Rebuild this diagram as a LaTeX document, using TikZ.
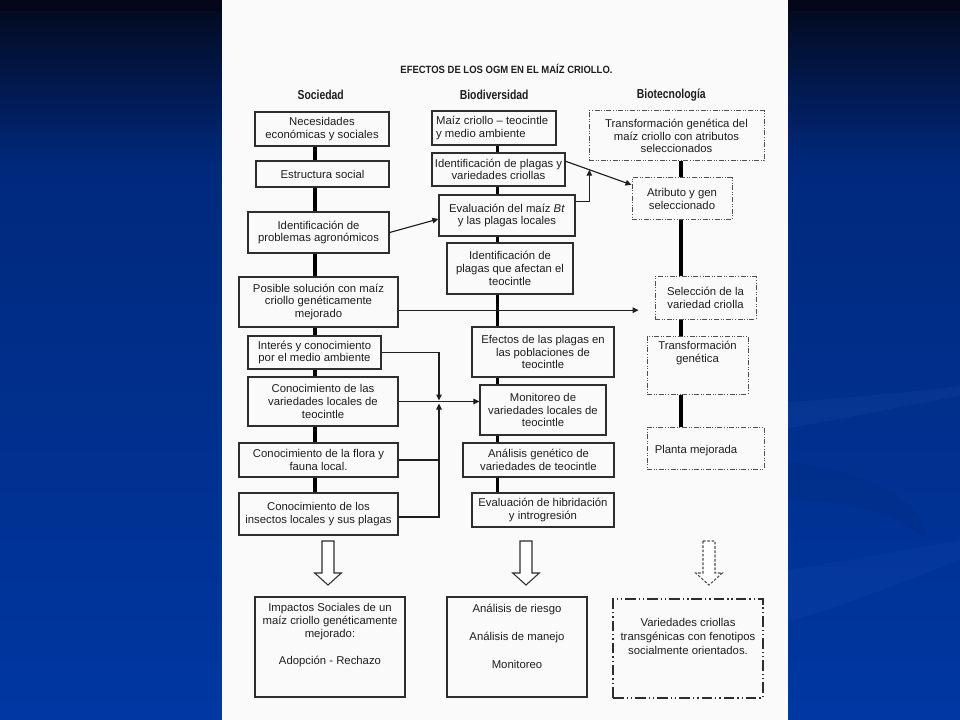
\documentclass[tikz,border=0pt]{standalone}
\usepackage{fontspec}
\setmainfont{Liberation Sans}
\newfontfamily\hdfont{Liberation Sans}[FakeStretch=0.8]
\newfontfamily\ttlfont{Liberation Sans}[FakeStretch=0.9]
\usetikzlibrary{arrows.meta,calc}
\definecolor{ink}{HTML}{1E1E1E}
\definecolor{boxline}{HTML}{2E2E2E}
\definecolor{dashgrey}{HTML}{505050}
\definecolor{pagecol}{HTML}{FAFAFA}
\definecolor{bgtop}{HTML}{06061A}
\definecolor{bgA}{HTML}{030B22}
\definecolor{bgB}{HTML}{00297C}
\definecolor{bgC}{HTML}{0037A2}
\definecolor{swoosh}{HTML}{5A86E0}
\newcommand\mybox[7][]{\node[box,#1,minimum width={(#5-#3)*0.75pt},minimum height={(#6-#4)*0.75pt}] (#2) at ({(#3+#5)/2},{(#4+#6)/2}) {#7};}
\newcommand\blockarrow[2]{\draw[hollow,#2] (#1-6,541) -- (#1-6,573) -- (#1-13.3,573) -- (#1,585) -- (#1+13.3,573) -- (#1+6,573) -- (#1+6,541) -- cycle;}
\begin{document}
\begin{tikzpicture}[x=0.75pt,y=-0.75pt,
  box/.style={draw=boxline,line width=0.95pt,inner sep=0pt,align=center,text=ink,font=\fontsize{8.5pt}{9.5pt}\selectfont},
  bio/.style={draw=dashgrey,line width=0.75pt,dash pattern=on 3.75pt off 1.2pt on 0.75pt off 1.2pt on 0.75pt off 1.2pt},
  res/.style={line width=1.5pt},
  resbio/.style={line width=1.5pt,dash pattern=on 8pt off 2.2pt on 1pt off 2.2pt on 1pt off 2.2pt},
  link/.style={line width=2.6pt,draw=black},
  arr/.style={line width=0.85pt,draw=ink,-{Triangle[length=4.5pt,width=4.2pt]}},
  thin/.style={line width=0.85pt,draw=ink},
  txt/.style={inner sep=0pt,align=center,text=ink,font=\fontsize{8.5pt}{9.75pt}\selectfont},
  hollow/.style={draw=boxline,line width=0.8pt,fill=white},
  head/.style={text=ink,font=\hdfont\bfseries\fontsize{9.75pt}{11pt}\selectfont}
]
\useasboundingbox (0,0) rectangle (960,720);
% background
\fill[bgtop] (0,0) rectangle (960,12);
\shade[top color=bgA,bottom color=bgB] (0,12) rectangle (960,165);
\shade[top color=bgB,bottom color=bgC] (0,165) rectangle (960,720);
\fill[swoosh,opacity=0.07] (788,402) .. controls (850,398) and (910,392) .. (960,386) -- (960,396) .. controls (910,404) and (850,418) .. (788,428) -- cycle;
\fill[black,opacity=0.04] (788,462) .. controls (860,470) and (930,500) .. (925,540) .. controls (900,515) and (850,500) .. (788,500) -- cycle;
\fill[swoosh,opacity=0.06] (788,570) .. controls (860,558) and (920,548) .. (960,540) -- (960,560) .. controls (920,575) and (860,600) .. (788,622) -- cycle;
% page
\fill[pagecol] (222,0) rectangle (788,720);

% title and headers
\node[text=ink,font=\ttlfont\bfseries\fontsize{7.9pt}{9pt}\selectfont] (title) at (506.5,68.5) {EFECTOS DE LOS OGM EN EL MAÍZ CRIOLLO.};
\node[head] (h1) at (320.7,95) {Sociedad};
\node[head] (h2) at (494.2,95) {Biodiversidad};
\node[head] (h3) at (671.3,95) {Biotecnología};

% Sociedad
\mybox{s1}{255}{112}{389}{146}{Necesidades\\económicas y sociales}
\mybox{s2}{256}{161}{389}{187}{Estructura social}
\mybox{s3}{248}{212}{389}{253}{Identificación de\\problemas agronómicos}
\mybox{s4}{239}{277}{398}{327}{Posible solución con maíz\\criollo  genéticamente\\mejorado}
\mybox{s5}{248}{336}{381}{369}{Interés y conocimiento\\por el medio ambiente}
\mybox{s6}{248}{377}{398}{426}{Conocimiento de las\\variedades locales de\\teocintle}
\mybox{s7}{239}{443}{398}{477}{Conocimiento de la flora y\\fauna local.}
\mybox{s8}{239}{493}{398}{535}{Conocimiento de los\\insectos locales y sus plagas}

% Biodiversidad
\mybox{b1}{432}{111}{556}{145}{}
\node[txt,align=left,anchor=west] (b1t) at ($(b1.west)+(4.5,0)$) {Maíz criollo – teocintle\\y medio ambiente};
\mybox{b2}{432}{153}{565}{186}{Identificación de plagas y\\variedades criollas}
\mybox{b3}{439}{195}{575}{236}{Evaluación del maíz \textit{Bt}\\y las plagas locales}
\mybox{b4}{447}{243}{573}{294}{Identificación de\\plagas que afectan el\\teocintle}
\mybox{b5}{472}{327}{614}{377}{Efectos de las plagas en\\las poblaciones de\\teocintle}
\mybox{b6}{480}{385}{606}{435}{Monitoreo de\\variedades locales de\\teocintle}
\mybox{b7}{463}{443}{614}{477}{Análisis genético de\\variedades de teocintle}
\mybox{b8}{472}{493}{614}{527}{Evaluación de hibridación\\y introgresión}

% Biotecnologia
\mybox[bio]{t1}{589}{111}{764}{161}{Transformación genética del\\maíz criollo con atributos\\seleccionados}
\mybox[bio]{t2}{632}{178}{732}{220}{Atributo y gen\\seleccionado}
\mybox[bio]{t3}{655}{277}{756}{319}{Selección de la\\variedad criolla}
\mybox[bio]{t4}{647}{336}{748}{394}{}
\node[txt,anchor=north] (t4t) at ($(t4.north)+(0,5.5)$) {Transformación\\genética};
\mybox[bio]{t5}{647}{427}{764}{469}{}
\node[txt,anchor=west] (t5t) at ($(t5.west)+(8,3)$) {Planta mejorada};

% thick links
\coordinate (cs) at (315,0);
\coordinate (cb) at (497.5,0);
\coordinate (ct) at (681,0);
\coordinate (jx) at (439,0);
\foreach \a/\b in {s1/s2,s2/s3,s3/s4,s4/s5,s5/s6,s6/s7,s7/s8}
  \draw[link] (\a.south -| cs) -- (\b.north -| cs);
\foreach \a/\b in {b1/b2,b2/b3,b3/b4,b4/b5,b5/b6,b6/b7,b7/b8}
  \draw[link] (\a.south -| cb) -- (\b.north -| cb);
\foreach \a/\b in {t1/t2,t2/t3,t3/t4,t4/t5}
  \draw[link] (\a.south -| ct) -- (\b.north -| ct);

% thin arrows
\draw[arr] (s3.east) -- ($(b3.west)+(0,3.5)$);
\coordinate (d1) at ($(b2.north east)!0.26!(b2.south east)$);
\coordinate (d2) at ($(t2.north west)!0.17!(t2.south west)$);
\draw[arr] (d1) -- (d2);
\coordinate (d3) at ($(d1)!0.36!(d2)$);
\coordinate (e1) at ($(b3.north east)!0.16!(b3.south east)$);
\draw[arr] (e1) -| (d3);
\coordinate (p1) at ($(s4.north east)!0.66!(s4.south east)$);
\draw[arr,shorten >=12pt] (p1) -- (p1 -| t3.west);
\coordinate (J) at (439,401);
\draw[arr] (s5.east) -| ($(J)+(0,-0.5)$);
\draw[arr] (s6.east) -- (s6.east -| b6.west);
\coordinate (q8) at ($(s8.north east)!0.57!(s8.south east)$);
\draw[arr] (q8) -| ($(J)+(0,2.5)$);
\draw[thin] (s7.east) -- (s7.east -| jx);

% block arrows
\blockarrow{328}{}
\blockarrow{526}{}
\blockarrow{709}{dashed,dash pattern=on 2pt off 1.2pt,draw=dashgrey}

% result boxes
\mybox[res]{r1}{255}{597}{405}{697}{}
\node[txt,anchor=north] (r1t) at ($(r1.north)+(0,7.5)$) {Impactos Sociales de un\\maíz criollo genéticamente\\mejorado:\\[10pt]Adopción - Rechazo};
\mybox[res]{r2}{447}{597}{587}{697}{}
\node[txt,anchor=north,font=\fontsize{8.5pt}{21pt}\selectfont] (r2t) at ($(r2.north)+(0,8)$) {Análisis de riesgo\\Análisis de manejo\\Monitoreo};
\mybox[resbio]{r3}{613}{599}{763}{698}{}
\node[txt,anchor=north,font=\fontsize{8.5pt}{10.25pt}\selectfont] (r3t) at ($(r3.north)+(0,20.5)$) {Variedades criollas\\transgénicas con fenotipos\\socialmente orientados.};
\end{tikzpicture}
\end{document}
